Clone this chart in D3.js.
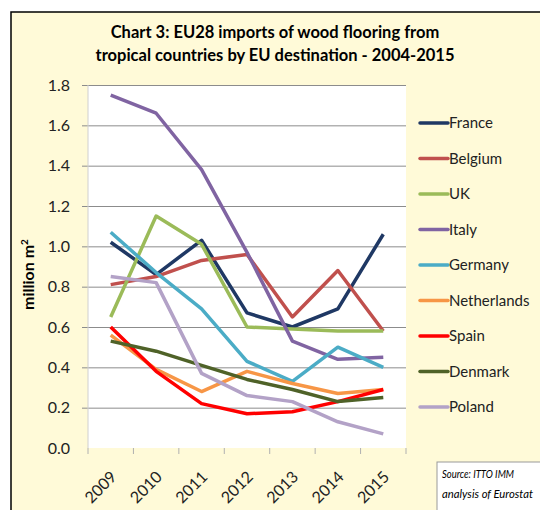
<!DOCTYPE html>
<html>
<head>
<meta charset="utf-8">
<script src="https://cdn.jsdelivr.net/npm/d3@7"></script>
<style>
  body { margin: 0; background: #fff; }
  text { font-family: Lato, "Open Sans", sans-serif; }
</style>
</head>
<body>
<svg id="chart" width="540" height="510"></svg>
<script>
// data (million m2)
var years = ['2009', '2010', '2011', '2012', '2013', '2014', '2015']
var yTicks = [0, 0.2, 0.4, 0.6, 0.8, 1.0, 1.2, 1.4, 1.6, 1.8]

var france      = [1.02, 0.86, 1.03, 0.67, 0.60, 0.69, 1.06]
var belgium     = [0.81, 0.85, 0.93, 0.96, 0.65, 0.88, 0.58]
var uk          = [0.65, 1.15, 1.01, 0.60, 0.59, 0.58, 0.58]
var italy       = [1.75, 1.66, 1.38, 0.97, 0.53, 0.44, 0.45]
var germany     = [1.07, 0.87, 0.69, 0.43, 0.33, 0.50, 0.40]
var netherlands = [0.56, 0.39, 0.28, 0.38, 0.32, 0.27, 0.29]
var spain       = [0.60, 0.38, 0.22, 0.17, 0.18, 0.23, 0.29]
var denmark     = [0.53, 0.48, 0.41, 0.34, 0.29, 0.23, 0.25]
var poland      = [0.85, 0.82, 0.37, 0.26, 0.23, 0.13, 0.07]

var series = [
  { name: 'France',      values: france,      color: '#1f3864' },
  { name: 'Belgium',     values: belgium,     color: '#c0504d' },
  { name: 'UK',          values: uk,          color: '#9bbb59' },
  { name: 'Italy',       values: italy,       color: '#8064a2' },
  { name: 'Germany',     values: germany,     color: '#4bacc6' },
  { name: 'Netherlands', values: netherlands, color: '#f79646' },
  { name: 'Spain',       values: spain,       color: '#ff0000' },
  { name: 'Denmark',     values: denmark,     color: '#4f6228' },
  { name: 'Poland',      values: poland,      color: '#b3a2c7' }
]

var svg = d3.select('#chart')
var bg = '#fffad8'

// outer frame
svg.append('rect').attr('x', 11).attr('y', 12).attr('width', 540).attr('height', 510)
  .attr('fill', bg).attr('stroke', '#000').attr('stroke-width', 1.5)

svg.append('text').attr('x', 275).attr('y', 38)
  .attr('text-anchor', 'middle').attr('font-size', 16.5).attr('font-weight', 'bold')
  .text('Chart 3: EU28 imports of wood flooring from')
svg.append('text').attr('x', 275).attr('y', 61)
  .attr('text-anchor', 'middle').attr('font-size', 16.5).attr('font-weight', 'bold')
  .text('tropical countries by EU destination - 2004-2015')

var pl = 88, pr = 406, pt = 85, pb = 448

var x = d3.scaleBand().domain(years).range([pl, pr])
var y = d3.scaleLinear().domain([0, 1.8]).range([pb, pt])

svg.append('rect').attr('x', pl).attr('y', pt)
  .attr('width', pr - pl).attr('height', pb - pt).attr('fill', '#fff')

// gridlines (with the short tick to the left) + y labels
var gy = svg.append('g').attr('transform', 'translate(' + (pl - 6) + ',0)')
gy.call(d3.axisRight(y).tickValues(yTicks.slice(1)).tickSize(pr - pl + 6).tickFormat(''))
gy.select('.domain').remove()
gy.selectAll('line').attr('stroke', '#8c8c8c')

var gl = svg.append('g').attr('transform', 'translate(' + (pl - 6) + ',0)')
gl.call(d3.axisLeft(y).tickValues(yTicks).tickFormat(d3.format('.1f')).tickSize(0).tickPadding(12))
gl.select('.domain').remove()
gl.selectAll('text').attr('font-size', 16).attr('fill', '#222')
  .style('font-family', 'Lato, sans-serif')

svg.append('line').attr('x1', pl).attr('x2', pl).attr('y1', pt).attr('y2', pb)
  .attr('stroke', '#d0d0d0')

// x axis ticks between categories
var gx = svg.append('g').attr('transform', 'translate(0,' + pb + ')')
gx.selectAll('line').data(years.concat(['end'])).enter().append('line')
  .attr('x1', function (d, i) { return pl + i * x.step() })
  .attr('x2', function (d, i) { return pl + i * x.step() })
  .attr('y1', 0).attr('y2', 6).attr('stroke', '#b0b0b0')
gx.selectAll('text').data(years).enter().append('text')
  .attr('transform', function (d) {
    return 'translate(' + (x(d) + x.bandwidth() / 2 + 3) + ',26) rotate(-45)'
  })
  .attr('text-anchor', 'end').attr('dy', '0.35em')
  .attr('font-size', 16).attr('fill', '#222')
  .text(function (d) { return d })

svg.append('text')
  .attr('transform', 'translate(34,' + ((pt + pb) / 2 + 8) + ') rotate(-90)')
  .attr('text-anchor', 'middle').attr('font-size', 16).attr('font-weight', 'bold')
  .html('million m<tspan dy="-6" font-size="10">2</tspan>')

var line = d3.line()
  .x(function (d, i) { return x(years[i]) + x.bandwidth() / 2 })
  .y(function (d) { return y(d) })

svg.selectAll('path.series').data(series).enter().append('path')
  .attr('class', 'series')
  .attr('d', function (d) { return line(d.values) })
  .attr('fill', 'none').attr('stroke', function (d) { return d.color })
  .attr('stroke-width', 3.5).attr('stroke-linejoin', 'round')

// legend
var lg = svg.selectAll('g.legend').data(series).enter().append('g')
  .attr('class', 'legend')
  .attr('transform', function (d, i) { return 'translate(420,' + (123 + i * 35.5) + ')' })
lg.append('line').attr('x1', 0).attr('x2', 28)
  .attr('stroke', function (d) { return d.color }).attr('stroke-width', 3.5)
  .attr('stroke-linecap', 'round')
lg.append('text').attr('x', 29).attr('dy', '0.35em').attr('font-size', 15).attr('fill', '#222')
  .text(function (d) { return d.name })

// source box
svg.append('rect').attr('x', 437).attr('y', 462).attr('width', 120).attr('height', 60)
  .attr('fill', '#fff').attr('stroke', '#999')
svg.append('text').attr('x', 442).attr('y', 478).attr('font-size', 11).attr('font-style', 'italic')
  .attr('textLength', 72).attr('lengthAdjust', 'spacingAndGlyphs')
  .text('Source: ITTO IMM')
svg.append('text').attr('x', 442).attr('y', 498).attr('font-size', 11).attr('font-style', 'italic')
  .attr('textLength', 91).attr('lengthAdjust', 'spacingAndGlyphs')
  .text('analysis of Eurostat')
</script>
</body>
</html>
